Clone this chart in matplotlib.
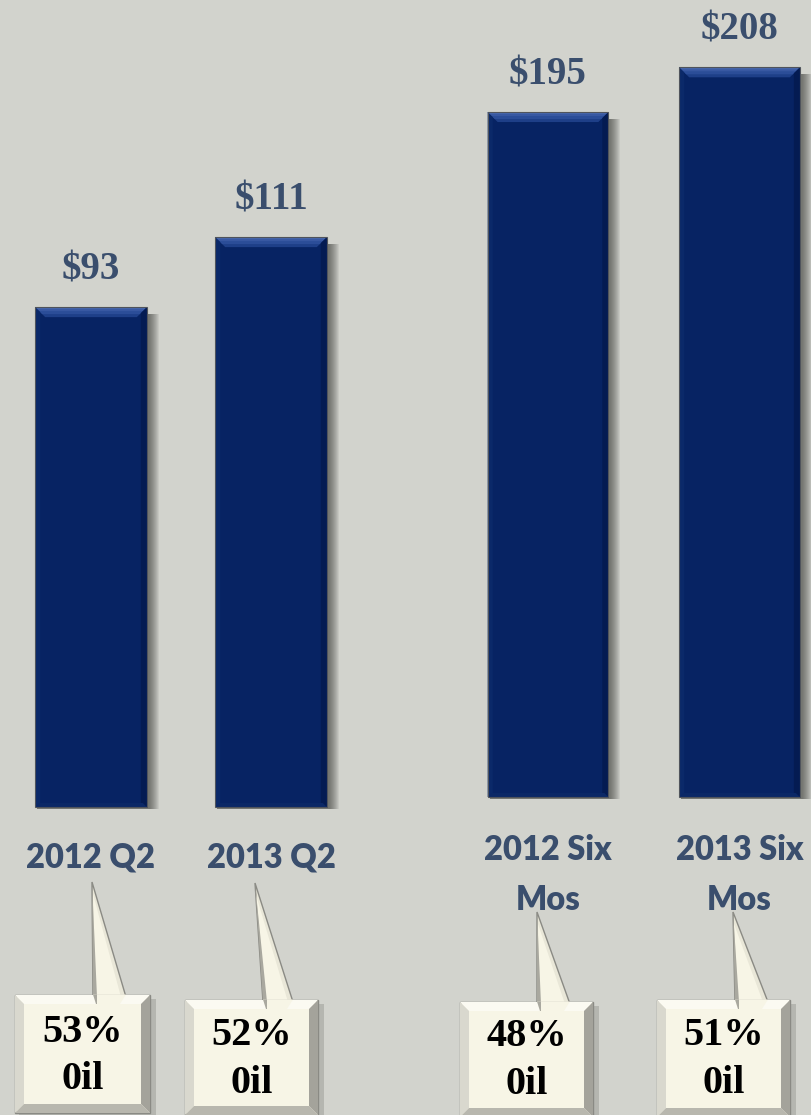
import matplotlib
matplotlib.use("Agg")
import matplotlib.pyplot as plt
from matplotlib.patches import Polygon, Rectangle
from matplotlib.transforms import blended_transform_factory
import numpy as np

# ---------------- data ----------------
categories_q = ["2012 Q2", "2013 Q2"]
values_q = [93, 111]
value_labels_q = ["$93", "$111"]

categories_six = ["2012 Six\nMos", "2013 Six\nMos"]
values_six = [195, 208]
value_labels_six = ["$195", "$208"]

oil_labels = ["53%\n0il", "52%\n0il", "48%\n0il", "51%\n0il"]

# ---------------- style ----------------
W, H = 812, 1115
BG = "#D2D3CD"
BAR = "#072363"
LABEL = "#3A4E6D"
CREAM = "#F7F5E6"

fig = plt.figure(figsize=(W / 100, H / 100), dpi=100)
fig.patch.set_facecolor(BG)


def fp(x, y):
    """pixel (from top-left) -> figure fraction"""
    return (x / W, 1 - y / H)


def make_axes(base_px, ymin, scale, center0, spacing):
    ax = fig.add_axes([0, 1 - base_px / H, 1, base_px / H])
    ax.set_xlim(-center0 / spacing, (W - center0) / spacing)
    ax.set_ylim(ymin, ymin + base_px / scale)
    ax.axis("off")
    ax.patch.set_alpha(0)
    ax.set_zorder(2)
    return ax


def to_fig(ax, x, y):
    d = ax.transData.transform((x, y))
    return fig.transFigure.inverted().transform(d)


def bevel_bar(ax, rect):
    x0, y0 = rect.get_x(), rect.get_y()
    x1, y1 = x0 + rect.get_width(), y0 + rect.get_height()
    (fx0, fy0) = to_fig(ax, x0, y0)
    (fx1, fy1) = to_fig(ax, x1, y1)
    px = 1 / W
    py = 1 / H
    # drop shadow (behind axes)
    for k in range(1, 11):
        fig.add_artist(Rectangle((fx0 + 2 * px, fy0 - 2 * py), (fx1 - fx0) + k * px, (fy1 - fy0) - 5 * py,
                                 transform=fig.transFigure, facecolor="#2a2a26", alpha=0.07,
                                 edgecolor="none", zorder=1))
    t = 10
    z = 4
    # top bevel (layered for a gradient)
    for d, col in [(t, "#1E3F88"), (7, "#2B4D98"), (4, "#3858A2"), (2, "#4666AD")]:
        fig.add_artist(Polygon([(fx0, fy1), (fx1, fy1), (fx1 - d * px, fy1 - d * py), (fx0 + d * px, fy1 - d * py)],
                               closed=True, transform=fig.transFigure, facecolor=col,
                               edgecolor="none", zorder=z))
    # left bevel
    fig.add_artist(Polygon([(fx0, fy1), (fx0 + 5 * px, fy1 - 5 * py), (fx0 + 5 * px, fy0 + 3 * py), (fx0, fy0)],
                           closed=True, transform=fig.transFigure, facecolor="#0B2969",
                           edgecolor="none", zorder=z))
    # right bevel
    fig.add_artist(Polygon([(fx1, fy1), (fx1 - 6 * px, fy1 - 6 * py), (fx1 - 6 * px, fy0 + 3 * py), (fx1, fy0)],
                           closed=True, transform=fig.transFigure, facecolor="#041B52",
                           edgecolor="none", zorder=z))
    # bottom bevel
    fig.add_artist(Polygon([(fx0, fy0), (fx1, fy0), (fx1 - 4 * px, fy0 + 4 * py), (fx0 + 4 * px, fy0 + 4 * py)],
                           closed=True, transform=fig.transFigure, facecolor="#0B2866",
                           edgecolor="none", zorder=z))
    # thin outline
    fig.add_artist(Rectangle((fx0, fy0), fx1 - fx0, fy1 - fy0, transform=fig.transFigure,
                             facecolor="none", edgecolor="#50545c", lw=0.8, zorder=5))


def draw_group(ax, cats, vals, vlabels, width, ymin, cat_y_px):
    xs = np.arange(len(cats))
    heights = np.array(vals) - ymin
    bars = ax.bar(xs, heights, bottom=ymin, width=width, color=BAR, zorder=3)
    for rect in bars:
        bevel_bar(ax, rect)
    for x, v, lab in zip(xs, vals, vlabels):
        ax.annotate(lab, (x, v), xytext=(0, 20), textcoords="offset points",
                    ha="center", va="baseline", fontsize=28, fontweight="bold",
                    family="Liberation Serif", color=LABEL)
    tr = blended_transform_factory(ax.transData, fig.transFigure)
    for x, c in zip(xs, cats):
        ax.text(x, 1 - cat_y_px / H, c, transform=tr, ha="center", va="top",
                fontsize=23.5, fontweight="heavy", family="Lato", color=LABEL,
                linespacing=1.7)


# left group (quarters)
ax1 = make_axes(base_px=807, ymin=-35.5, scale=3.89, center0=91, spacing=180)
draw_group(ax1, categories_q, values_q, value_labels_q, 0.62, -35.5, 841)

# right group (six months)
ax2 = make_axes(base_px=797, ymin=-4, scale=3.442, center0=548, spacing=191.5)
draw_group(ax2, categories_six, values_six, value_labels_six, 0.63, -4, 834)

# ---------------- callouts ----------------
# (box_x0, box_x1, box_top, box_bottom, tip_x, tip_y, base_x0, base_x1)
callouts = [
    (15, 150, 995, 1113, 92, 882, 93, 126),
    (185, 318, 1000, 1115, 255, 883, 263, 293),
    (460, 593, 1002, 1117, 537, 912, 537, 570),
    (657, 790, 1000, 1117, 733, 912, 735, 768),
]


def poly(pts, **kw):
    fig.add_artist(Polygon([fp(x, y) for x, y in pts], closed=True,
                           transform=fig.transFigure, **kw))


for (bx0, bx1, bt, bb, tx, ty, b0, b1), lab in zip(callouts, oil_labels):
    # shadow
    poly([(bx0 + 4, bt + 4), (bx1 + 6, bt + 4), (bx1 + 6, bb + 6), (bx0 + 4, bb + 6)],
         facecolor="#9a9a94", alpha=0.5, edgecolor="none", zorder=6)
    # pointer
    poly([(b0, bt + 2), (tx, ty), (b1, bt + 2)], facecolor="#E9E7D8", edgecolor="#8a8a84",
         lw=1.0, zorder=7)
    poly([(b0 + 3, bt + 2), (tx + 1, ty + 12), (b1 - 5, bt + 2)], facecolor=CREAM,
         edgecolor="none", zorder=7)
    poly([(b0, bt + 2), (tx, ty), (b0 + 4, bt + 2)], facecolor="#A9A89F",
         edgecolor="none", zorder=7)
    # box body
    poly([(bx0, bt), (bx1, bt), (bx1, bb), (bx0, bb)], facecolor=CREAM, edgecolor="#8a8a84",
         lw=1.0, zorder=8)
    t = 9
    # bevels
    poly([(bx0, bt), (bx1, bt), (bx1 - t, bt + t), (bx0 + t, bt + t)],
         facecolor="#FBFAF2", edgecolor="none", zorder=8)
    poly([(bx0, bt), (bx0 + t, bt + t), (bx0 + t, bb - t), (bx0, bb)],
         facecolor="#D9D8CE", edgecolor="none", zorder=8)
    poly([(bx1, bt), (bx1 - t, bt + t), (bx1 - t, bb - t), (bx1, bb)],
         facecolor="#A4A39B", edgecolor="none", zorder=8)
    poly([(bx0, bb), (bx0 + t, bb - t), (bx1 - t, bb - t), (bx1, bb)],
         facecolor="#B8B7AE", edgecolor="none", zorder=8)
    # pointer joint covers top bevel
    poly([(b0, bt - 0.5), (b1, bt - 0.5), (b1 - 6, bt + t), (b0 + 3, bt + t)],
         facecolor=CREAM, edgecolor="none", zorder=9)
    poly([(b0, bt - 0.5), (b0 + 3, bt + t), (b0 + 4, bt + t), (b0 + 4, bt - 0.5)],
         facecolor="#A9A89F", edgecolor="none", zorder=9)
    cx = (bx0 + bx1) / 2
    cy = (bt + min(bb, H)) / 2 + 2
    fig.text(*fp(cx, cy), lab, ha="center", va="center", fontsize=29, fontweight="bold",
             family="Liberation Serif", color="black", linespacing=1.38, zorder=10)

fig.savefig("out.png", dpi=100, facecolor=BG)
